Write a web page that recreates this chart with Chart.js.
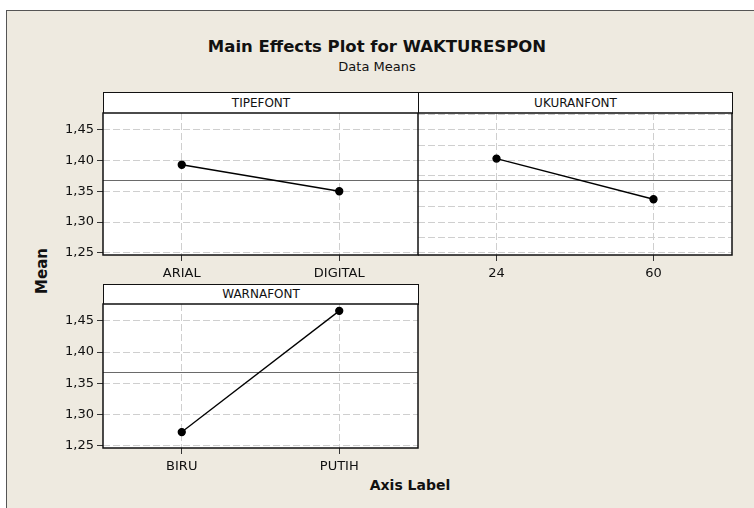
<!DOCTYPE html>
<html>
<head>
<meta charset="utf-8">
<script src="https://cdn.jsdelivr.net/npm/chart.js@4/dist/chart.umd.min.js"></script>
<style>
  body { margin: 0; background: #fff; width: 754px; height: 508px; overflow: hidden; position: relative; font-family: "DejaVu Sans", sans-serif; }
  #frame { position: absolute; left: 6px; top: 10px; width: 760px; height: 510px; background: #eeeae0; border-left: 1px solid #555; border-top: 1px solid #555; }
  .txt { position: absolute; color: #111; white-space: nowrap; }
  .hdr { position: absolute; box-sizing: border-box; background: #fff; border: 1px solid #111; font-size: 12px; text-align: center; color: #111; }
  canvas { position: absolute; }
</style>
</head>
<body>
<div id="frame"></div>
<div class="txt" style="left:0;width:754px;top:37px;text-align:center;font-size:16.5px;font-weight:bold;">Main Effects Plot for WAKTURESPON</div>
<div class="txt" style="left:0;width:754px;top:59px;text-align:center;font-size:13px;">Data Means</div>
<div class="hdr" style="left:103px;top:92px;width:316px;height:22px;line-height:20px;">TIPEFONT</div>
<div class="hdr" style="left:418px;top:92px;width:315px;height:22px;line-height:20px;">UKURANFONT</div>
<div class="hdr" style="left:103px;top:284px;width:316px;height:21px;line-height:19px;">WARNAFONT</div>
<div class="txt" style="left:17px;top:262px;width:50px;text-align:center;font-size:15px;font-weight:bold;transform:rotate(-90deg);">Mean</div>
<div class="txt" style="left:360px;width:100px;top:477px;text-align:center;font-size:14px;font-weight:bold;">Axis Label</div>

<canvas id="c1" width="370" height="172" style="left:50px;top:108px;"></canvas>
<canvas id="c2" width="316" height="172" style="left:418px;top:108px;"></canvas>
<canvas id="c3" width="370" height="174" style="left:50px;top:299px;"></canvas>

<script>
// data
const tipeLabels = ['ARIAL', 'DIGITAL'];
const tipeMeans = [1.393, 1.350];
const ukuranLabels = ['24', '60'];
const ukuranMeans = [1.403, 1.337];
const warnaLabels = ['BIRU', 'PUTIH'];
const warnaMeans = [1.272, 1.466];
const grandMean = 1.368;
const yTicks = [1.25, 1.275, 1.30, 1.325, 1.35, 1.375, 1.40, 1.425, 1.45, 1.475];
const yMin = 1.2465, yMax = 1.477;

function isMajor(v) {
  return Math.abs(Math.round(v * 100) % 5) === 0;
}

// white plot area, grand mean line and black box
const panelPlugin = {
  id: 'panel',
  beforeDraw(chart) {
    const a = chart.chartArea, ctx = chart.ctx;
    ctx.save();
    ctx.fillStyle = '#fff';
    ctx.fillRect(a.left, a.top, a.right - a.left, a.bottom - a.top);
    ctx.restore();
  },
  beforeDatasetsDraw(chart) {
    const a = chart.chartArea, ctx = chart.ctx;
    const y = chart.scales.y.getPixelForValue(grandMean);
    ctx.save();
    ctx.strokeStyle = '#6a6a6a';
    ctx.lineWidth = 1;
    ctx.beginPath();
    ctx.moveTo(a.left, Math.round(y) + 0.5);
    ctx.lineTo(a.right, Math.round(y) + 0.5);
    ctx.stroke();
    ctx.restore();
  },
  afterDraw(chart) {
    const a = chart.chartArea, ctx = chart.ctx;
    ctx.save();
    ctx.strokeStyle = '#111';
    ctx.lineWidth = 1.5;
    ctx.strokeRect(a.left, a.top, a.right - a.left, a.bottom - a.top);
    ctx.restore();
  }
};

function makePanel(id, labels, means, showY, yWidth) {
  new Chart(document.getElementById(id), {
    type: 'line',
    data: {
      labels: labels,
      datasets: [{
        data: means,
        borderColor: '#000',
        backgroundColor: '#000',
        borderWidth: 1.3,
        pointRadius: 3.5,
        pointHoverRadius: 3.5,
        tension: 0
      }]
    },
    options: {
      responsive: false,
      animation: false,
      events: [],
      layout: { autoPadding: false, padding: { top: 5, right: 2, left: 0, bottom: 0 } },
      plugins: { legend: { display: false }, tooltip: { enabled: false } },
      scales: {
        x: {
          type: 'category',
          offset: true,
          grid: {
            offset: false,
            color: '#cfcfcf',
            tickColor: '#333',
            tickLength: 6,
            lineWidth: 1
          },
          border: { display: false, dash: [7, 3] },
          ticks: { color: '#111', font: { family: 'DejaVu Sans', size: 13 }, padding: 5, maxRotation: 0 },
          afterFit(s) { s.height = 25; s.paddingLeft = 0; s.paddingRight = 0; }
        },
        y: {
          min: yMin,
          max: yMax,
          afterBuildTicks(s) { s.ticks = yTicks.map(v => ({ value: v })); },
          grid: {
            color: '#cfcfcf',
            tickColor: c => (showY && c.tick && isMajor(c.tick.value)) ? '#333' : 'transparent',
            tickLength: 6,
            drawTicks: showY
          },
          border: { display: false, dash: [7, 3] },
          ticks: {
            display: showY,
            color: '#111',
            font: { family: 'DejaVu Sans', size: 13 },
            padding: 3,
            callback: v => isMajor(v) ? v.toFixed(2).replace('.', ',') : ''
          },
          afterFit(s) { s.width = yWidth; s.paddingTop = 0; s.paddingBottom = 0; }
        }
      }
    },
    plugins: [panelPlugin]
  });
}

makePanel('c1', tipeLabels, tipeMeans, true, 53);
makePanel('c2', ukuranLabels, ukuranMeans, false, 0);
makePanel('c3', warnaLabels, warnaMeans, true, 53);
</script>
</body>
</html>
